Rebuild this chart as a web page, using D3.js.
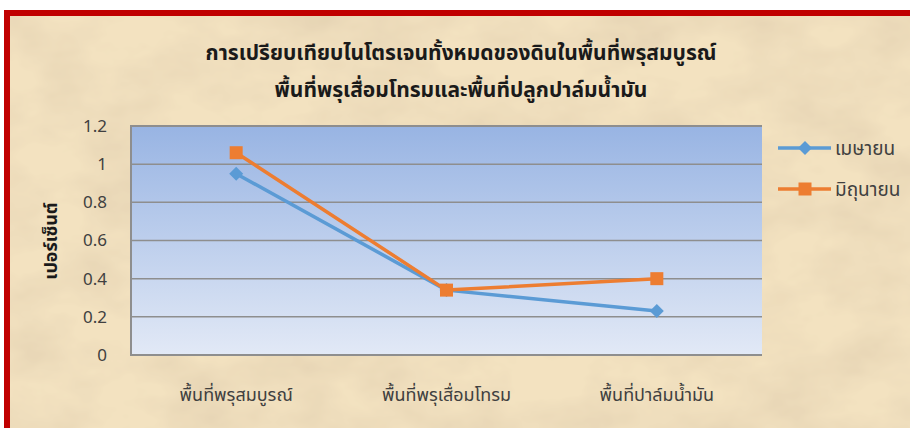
<!DOCTYPE html>
<html><head><meta charset="utf-8">
<script src="https://cdn.jsdelivr.net/npm/d3@7"></script>
<style>body{margin:0;background:#fff;}svg{display:block;}</style>
</head><body>
<script>
const categories = ["พื้นที่พรุสมบูรณ์", "พื้นที่พรุเสื่อมโทรม", "พื้นที่ปาล์มน้ำมัน"];
const seriesNames = ["เมษายน", "มิถุนายน"];
const aprilValues = [0.95, 0.34, 0.23];
const juneValues = [1.06, 0.34, 0.40];
const yTicks = [0, 0.2, 0.4, 0.6, 0.8, 1, 1.2];
const titleLines = ["การเปรียบเทียบไนโตรเจนทั้งหมดของดินในพื้นที่พรุสมบูรณ์", "พื้นที่พรุเสื่อมโทรมและพื้นที่ปลูกปาล์มน้ำมัน"];
const yTitle = "เปอร์เซ็นต์";

const W = 910, H = 428;
const svg = d3.select("body").append("svg").attr("width", W).attr("height", H);
const defs = svg.append("defs");

// parchment texture
const f = defs.append("filter").attr("id", "paper").attr("x", 0).attr("y", 0).attr("width", "100%").attr("height", "100%");
f.append("feTurbulence").attr("type", "fractalNoise").attr("baseFrequency", "0.012 0.02").attr("numOctaves", 4).attr("seed", 7).attr("result", "noise");
f.append("feColorMatrix").attr("in", "noise").attr("type", "matrix")
  .attr("values", "0 0 0 0 0.78  0 0 0 0 0.65  0 0 0 0 0.45  0 0 0 -1.6 1.05").attr("result", "tint");
f.append("feComposite").attr("in", "tint").attr("in2", "SourceGraphic").attr("operator", "over");

const pg = defs.append("linearGradient").attr("id", "plotGrad").attr("x1", 0).attr("y1", 0).attr("x2", 0).attr("y2", 1);
pg.append("stop").attr("offset", "0%").attr("stop-color", "#98B4E3");
pg.append("stop").attr("offset", "100%").attr("stop-color", "#E2E9F6");

// background + border
svg.append("rect").attr("x", 7).attr("y", 13).attr("width", W).attr("height", H)
  .attr("fill", "#F3E2C0").attr("filter", "url(#paper)");
svg.append("path").attr("d", `M7,${H} V13 H${W}`).attr("fill", "none").attr("stroke", "#C00000").attr("stroke-width", 6);

const plot = {left: 131, top: 126, right: 762, bottom: 355};
const x = d3.scaleBand().domain(categories).range([plot.left, plot.right]);
const y = d3.scaleLinear().domain([0, 1.2]).range([plot.bottom, plot.top]);

svg.append("rect").attr("x", plot.left).attr("y", plot.top).attr("width", plot.right - plot.left).attr("height", plot.bottom - plot.top).attr("fill", "url(#plotGrad)");

// gridlines
svg.append("g").selectAll("line").data(yTicks.filter(d => d > 0 && d < 1.2)).join("line")
  .attr("x1", plot.left).attr("x2", plot.right).attr("y1", d => y(d)).attr("y2", d => y(d))
  .attr("stroke", "#8E8E8E").attr("stroke-width", 1.5);
svg.append("path").attr("d", `M${plot.right},${y(1.2)} H${plot.left} V${y(0)} H${plot.right}`)
  .attr("fill", "none").attr("stroke", "#8E8E8E").attr("stroke-width", 2);

// y axis
const yAxis = d3.axisLeft(y).tickValues(yTicks).tickSize(0).tickPadding(24).tickFormat(d => String(d));
const ya = svg.append("g").attr("transform", `translate(${plot.left},0)`).call(yAxis);
ya.select(".domain").remove();
ya.selectAll("text").attr("font-family", "'Noto Sans', 'DejaVu Sans', sans-serif").attr("font-size", 17).attr("fill", "#404040");

// x axis
const xAxis = d3.axisBottom(x).tickSize(0).tickPadding(33);
const xa = svg.append("g").attr("transform", `translate(0,${plot.bottom})`).call(xAxis);
xa.select(".domain").remove();
xa.selectAll("text").attr("font-family", "Tahoma, 'Noto Sans Thai', 'Noto Sans', sans-serif").attr("font-size", 18).attr("fill", "#404040");

// title
svg.append("g").selectAll("text").data(titleLines).join("text")
  .attr("x", 461).attr("y", (d, i) => 60 + i * 37).attr("text-anchor", "middle")
  .attr("font-family", "Tahoma, 'Noto Sans Thai', sans-serif").attr("font-weight", "bold").attr("font-size", 21).attr("fill", "#1a1a1a")
  .text(d => d);

// y title
svg.append("text").attr("transform", `translate(57,241) rotate(-90)`).attr("text-anchor", "middle")
  .attr("font-family", "Tahoma, 'Noto Sans Thai', sans-serif").attr("font-weight", "bold").attr("font-size", 18).attr("fill", "#1a1a1a").text(yTitle);

const colors = ["#5B9BD5", "#ED7D31"];
const data = [aprilValues, juneValues];
const line = d3.line().x((d, i) => x(categories[i]) + x.bandwidth() / 2).y(d => y(d));
const diamond = "M0,-7 L7,0 L0,7 L-7,0 Z";
const square = "M-6.5,-6.5 H6.5 V6.5 H-6.5 Z";
const shapes = [diamond, square];

data.forEach((vals, s) => {
  svg.append("path").datum(vals).attr("d", line).attr("fill", "none").attr("stroke", colors[s]).attr("stroke-width", 3.5).attr("stroke-linejoin", "round");
  svg.append("g").selectAll("path").data(vals).join("path")
    .attr("transform", (d, i) => `translate(${x(categories[i]) + x.bandwidth() / 2},${y(d)})`)
    .attr("d", shapes[s]).attr("fill", colors[s]);
});

// legend
const lg = svg.append("g");
seriesNames.forEach((n, s) => {
  const ly = 148 + s * 41;
  lg.append("line").attr("x1", 778).attr("x2", 831).attr("y1", ly).attr("y2", ly).attr("stroke", colors[s]).attr("stroke-width", 3.5);
  lg.append("path").attr("transform", `translate(805,${ly})`).attr("d", shapes[s]).attr("fill", colors[s]);
  lg.append("text").attr("x", 835).attr("y", ly).attr("dy", "0.35em").attr("font-family", "Tahoma, 'Noto Sans Thai', 'Noto Sans', sans-serif")
    .attr("font-size", 19).attr("fill", "#404040").text(n);
});
</script>
</body></html>
